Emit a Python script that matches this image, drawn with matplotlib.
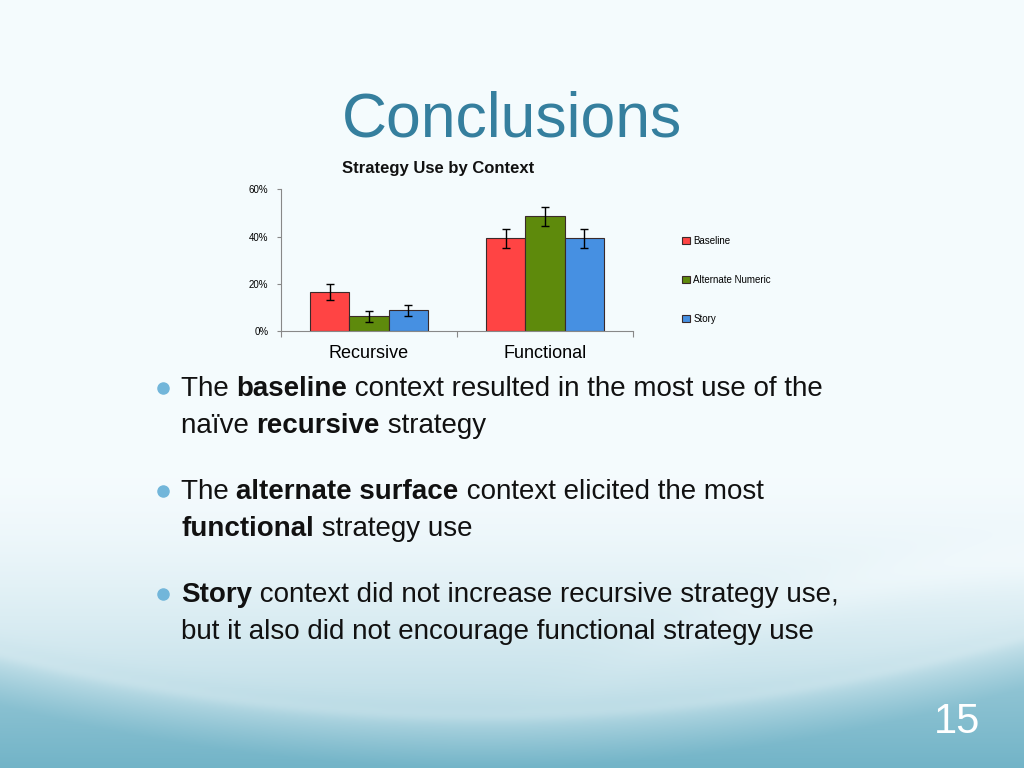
import matplotlib.pyplot as plt
import numpy as np

plt.rcParams['font.family'] = ['Liberation Sans', 'DejaVu Sans']

categories = ['Recursive', 'Functional']
series = ['Baseline', 'Alternate Numeric', 'Story']
values = [[16.4, 39.3], [6.2, 48.6], [8.8, 39.3]]
errors = [[3.4, 4.0], [2.3, 4.0], [2.4, 4.0]]
colors = ['#ff4444', '#5e8a0c', '#4690e2']
yticks = [0, 20, 40, 60]
ytick_labels = ['0%', '20%', '40%', '60%']

bullets = [
    [[('The ', False), ('baseline', True), (' context resulted in the most use of the', False)],
     [('naïve ', False), ('recursive', True), (' strategy', False)]],
    [[('The ', False), ('alternate surface', True), (' context elicited the most', False)],
     [('functional', True), (' strategy use', False)]],
    [[('Story', True), (' context did not increase recursive strategy use,', False)],
     [('but it also did not encourage functional strategy use', False)]],
]
bullet_y = [389, 492, 595]

fig = plt.figure(figsize=(10.24, 7.68), dpi=100)

# slide background: pale top, teal waves at the bottom
bg = fig.add_axes([0, 0, 1, 1])
bg.set_xlim(0, 1024)
bg.set_ylim(768, 0)
bg.axis('off')
yy, xx = np.mgrid[0:768, 0:1024]
top = np.array([0.96, 0.985, 0.995])
low = np.array([0.42, 0.69, 0.77])
t = np.clip((yy - 470) / 298.0, 0, 1) ** 1.5
curve = 715 - 0.000269 * (xx - 480) ** 2
below = 1 / (1 + np.exp(-(yy - curve) / 12.0))
shade = np.clip(t * 0.55 + below * 0.4 * np.clip((yy - curve) / 80 + 0.35, 0, 1), 0, 1)
# faint swoosh on the right
curve2 = 560 + 0.00045 * (xx - 1100) ** 2
fade = 1 / (1 + np.exp(-(xx - 650) / 60.0))
shade = np.clip(shade - 0.06 * np.exp(-((yy - curve2) / 25.0) ** 2) * fade, 0, 1)
img = top[None, None, :] * (1 - shade[..., None]) + low[None, None, :] * shade[..., None]
glow = np.exp(-((yy - curve) / 7.0) ** 2) * 0.12
img = img + (1 - img) * glow[..., None]
bg.imshow(np.clip(img, 0, 1), extent=(0, 1024, 768, 0), aspect='auto', zorder=0)

bg.text(512, 120, 'Conclusions', fontsize=45, color='#357f9e',
        ha='center', va='center')
bg.text(438, 169, 'Strategy Use by Context', fontsize=12, fontweight='bold',
        ha='center', va='center', color='#111111')

# bullet list with bold fragments
for y0, lines in zip(bullet_y, bullets):
    bg.plot(163, y0 - 1, 'o', color='#72b6da', markersize=8, zorder=2)
    for k, line in enumerate(lines):
        prev = None
        for txt, bold in line:
            w = 'bold' if bold else 'normal'
            if prev is None:
                prev = bg.text(181, y0 + 37 * k, txt, fontsize=20, fontweight=w,
                               ha='left', va='center', color='#111111')
            else:
                prev = bg.annotate(txt, xy=(1, 0), xycoords=prev, fontsize=20,
                                   fontweight=w, ha='left', va='bottom',
                                   color='#111111')

bg.text(957, 722, '15', fontsize=30, color='white', ha='center', va='center')

# chart
ax = fig.add_axes([281 / 1024, 1 - 331 / 768, 352 / 1024, 141.7 / 768])
ax.patch.set_alpha(0)
x = np.arange(len(categories)) + 0.5
w = 0.2216
for i, name in enumerate(series):
    ax.bar(x + (i - 1) * w, values[i], w, yerr=errors[i], color=colors[i],
           edgecolor='#3a2a2a', linewidth=0.8, label=name,
           error_kw=dict(ecolor='black', elinewidth=1, capsize=3, capthick=1))
ax.set_xlim(0, 2)
ax.set_ylim(0, 60)
ax.set_yticks(yticks)
ax.set_yticklabels(ytick_labels, fontsize=7)
ax.set_xticks([0, 1, 2])
ax.set_xticklabels([])
ax.set_xticks(x, minor=True)
ax.set_xticklabels(categories, minor=True, fontsize=13)
ax.tick_params(axis='x', which='minor', length=0, pad=10)
ax.tick_params(axis='x', which='major', length=4, color='#888888', direction='out')
ax.tick_params(axis='y', length=3, color='#888888', pad=6)
for s in ['top', 'right']:
    ax.spines[s].set_visible(False)
for s in ['left', 'bottom']:
    ax.spines[s].set_color('#888888')
ax.legend(loc='upper left', bbox_to_anchor=(673 / 1024, 1 - 227 / 768),
          bbox_transform=fig.transFigure, frameon=False, fontsize=7,
          handlelength=0.8, handleheight=0.8, handletextpad=0.4,
          labelspacing=3.0)

fig.savefig('out.png', dpi=100)
